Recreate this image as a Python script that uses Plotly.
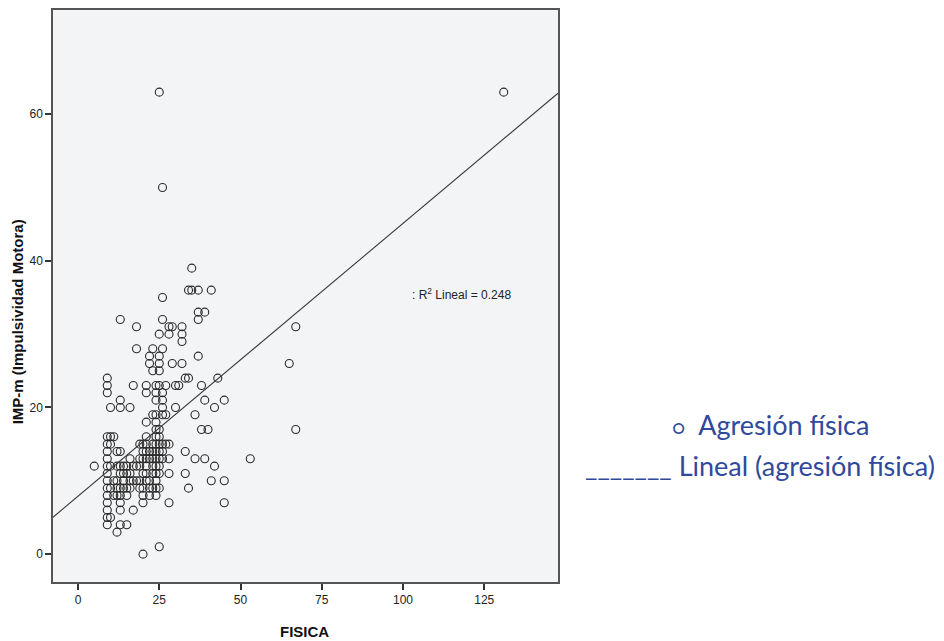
import plotly.graph_objects as go

# FISICA (x) and IMP-m (y) scores
fisica = [25, 131, 26, 35, 34, 35, 37, 41, 26, 13, 26, 37, 39, 37, 18, 28, 29, 32, 25, 28, 32, 32,
          18, 23, 26, 22, 25, 37, 22, 25, 29, 32, 65, 23, 25, 67,
          9, 9, 9, 17, 21, 24, 25, 27, 30, 31, 38, 33, 34, 43,
          21, 24, 26, 24, 26, 13, 39, 45,
          10, 13, 16, 26, 30, 42,
          23, 26, 27, 36, 24,
          21, 24,
          24, 38, 40, 67, 25,
          9, 10, 11, 21, 24, 25,
          9, 10, 19, 20, 21, 23, 24, 25, 26, 27, 28,
          9, 12, 13, 20, 21, 22, 23, 24, 25, 26, 33,
          9, 19, 20, 21, 22, 23, 24, 25, 26, 28, 36, 39, 53, 16,
          5, 9, 12, 15, 18, 19, 21, 23, 24, 25, 42, 10, 13, 14, 17,
          9, 13, 14, 16, 20, 21, 23, 24, 25, 28, 33, 15,
          9, 12, 14, 16, 19, 21, 22, 24, 41, 45, 11, 18, 17,
          9, 12, 14, 15, 19, 20, 22, 23, 24, 25, 34, 10, 13, 16,
          9, 12, 15, 20, 22, 24, 11, 13,
          9, 13, 20, 28, 45,
          9, 13, 17,
          9, 10,
          9, 13, 15,
          12,
          20, 25]
imp = [63, 63, 50, 39, 36, 36, 36, 36, 35, 32, 32, 33, 33, 32, 31, 31, 31, 31, 30, 30, 30, 29,
       28, 28, 28, 27, 27, 27, 26, 26, 26, 26, 26, 25, 25, 31,
       24, 23, 22, 23, 23, 23, 23, 23, 23, 23, 23, 24, 24, 24,
       22, 22, 22, 21, 21, 21, 21, 21,
       20, 20, 20, 20, 20, 20,
       19, 19, 19, 19, 19,
       18, 18,
       17, 17, 17, 17, 17,
       16, 16, 16, 16, 16, 16,
       15, 15, 15, 15, 15, 15, 15, 15, 15, 15, 15,
       14, 14, 14, 14, 14, 14, 14, 14, 14, 14, 14,
       13, 13, 13, 13, 13, 13, 13, 13, 13, 13, 13, 13, 13, 13,
       12, 12, 12, 12, 12, 12, 12, 12, 12, 12, 12, 12, 12, 12, 12,
       11, 11, 11, 11, 11, 11, 11, 11, 11, 11, 11, 11,
       10, 10, 10, 10, 10, 10, 10, 10, 10, 10, 10, 10, 10,
       9, 9, 9, 9, 9, 9, 9, 9, 9, 9, 9, 9, 9, 9,
       8, 8, 8, 8, 8, 8, 8, 8,
       7, 7, 7, 7, 7,
       6, 6, 6,
       5, 5,
       4, 4, 4,
       3,
       0, 1]

# Linear fit shown in the chart (R2 = 0.248)
fit_intercept = 7.9
fit_slope = 0.372
r2_value = 0.248

x_range = [-7.7, 147.7]
y_range = [-3.8, 74.2]
x_ticks = [0, 25, 50, 75, 100, 125]
y_ticks = [0, 20, 40, 60]

fit_x = x_range
fit_y = [fit_intercept + fit_slope * v for v in fit_x]

tick_font = dict(family="Liberation Sans Narrow, Arial Narrow, Liberation Sans", size=12, color="#222")

fig = go.Figure()
fig.add_trace(go.Scatter(
    x=fisica, y=imp, mode="markers",
    marker=dict(symbol="circle-open", size=8, color="#2a2a2a", line=dict(width=1.1)),
    showlegend=False, hoverinfo="x+y"))
fig.add_trace(go.Scatter(
    x=fit_x, y=fit_y, mode="lines",
    line=dict(color="#3a3a3a", width=1.1), showlegend=False, hoverinfo="skip"))

fig.update_xaxes(range=x_range, tickvals=x_ticks, ticks="outside", ticklen=6, tickwidth=1.5,
                 tickcolor="#333", showline=True, linecolor="#555", linewidth=1.5, mirror=True,
                 showgrid=False, zeroline=False, tickfont=tick_font)
fig.update_yaxes(range=y_range, tickvals=y_ticks, ticks="outside", ticklen=6, tickwidth=1.5,
                 tickcolor="#333", showline=True, linecolor="#555", linewidth=1.5, mirror=True,
                 showgrid=False, zeroline=False, tickfont=tick_font)

blue = "#2f4a9c"
legend_font = dict(family="Lato, Open Sans", size=27, color=blue)
fig.update_layout(
    width=944, height=641,
    margin=dict(l=45, r=394, t=0, b=67),
    paper_bgcolor="white", plot_bgcolor="#f3f4f6",
    annotations=[
        dict(x=102.2, y=35.5, xref="x", yref="y", xanchor="left", yanchor="middle", showarrow=False,
             text=": R<sup>2</sup> Lineal = " + str(r2_value), font=tick_font),
        dict(x=-0.0713, y=0.4557, xref="paper", yref="paper", textangle=-90, showarrow=False,
             xanchor="center", yanchor="middle",
             text="<b>IMP-m (Impulsividad Motora)</b>",
             font=dict(family="Liberation Sans, Arial", size=15, color="#111")),
        dict(x=0.499, y=-0.087, xref="paper", yref="paper", showarrow=False,
             xanchor="center", yanchor="middle",
             text="<b>FISICA</b>",
             font=dict(family="Liberation Sans Narrow, Arial Narrow, Liberation Sans", size=15, color="#111")),
        dict(x=1.2218, y=0.2748, xref="paper", yref="paper", xanchor="left", yanchor="middle",
             showarrow=False,
             text="<span style='font-size:20px'>○</span>  Agresión física",
             font=legend_font),
        dict(x=1.0495, y=0.2035, xref="paper", yref="paper", xanchor="left", yanchor="middle",
             showarrow=False,
             text="_______ Lineal (agresión física)",
             font=legend_font),
    ],
)

fig.write_html("out.html")
